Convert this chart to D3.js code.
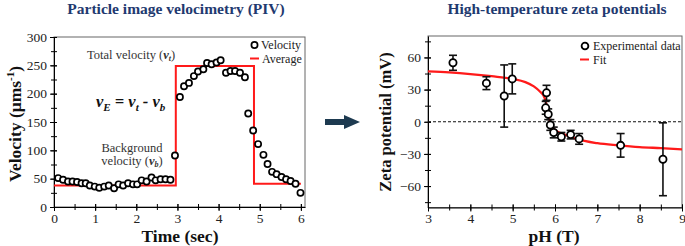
<!DOCTYPE html>
<html><head><meta charset="utf-8">
<script src="https://cdn.jsdelivr.net/npm/d3@7"></script>
<style>
body{margin:0;background:#fff;}
svg{display:block;font-family:"Liberation Serif","Times New Roman",serif;}
svg text{font-family:"Liberation Serif","Times New Roman",serif;}
</style></head>
<body><svg id="c" width="685" height="246"></svg>
<script>
// ---------- Data: left panel (PIV) ----------
const timeSec = [0.10,0.22,0.34,0.45,0.56,0.67,0.77,0.87,0.99,1.10,1.22,1.33,1.46,1.57,1.68,1.80,1.92,2.02,2.13,2.25,2.37,2.47,2.59,2.71,2.83,2.94,
  3.06,3.16,3.28,3.40,3.50,3.63,3.72,3.83,3.95,4.05,4.18,4.29,4.40,4.52,4.64,4.72,4.84,4.96,5.09,5.19,5.30,5.41,5.53,5.64,5.75,5.87,5.99];
const velocity = [51,48,45,45,44,42,42,38,36,34,36,38,33,40,38,42,40,40,47,45,52,47,49,49,48,91,
  194,213,219,231,239,243,254,252,255,259,237,240,240,237,229,165,135,111,92,76,62,58,53,49,46,41,25];
const avgTime = [0,2.96,2.96,4.86,4.86,6.0];
const avgVel  = [38,38,249,249,41,41];
const leftXTicks = [0,1,2,3,4,5,6];
const leftYTicks = [0,50,100,150,200,250,300];

// ---------- Data: right panel (zeta) ----------
const pH    = [3.59,4.38,4.80,4.99,5.80,5.78,5.84,5.89,5.97,6.15,6.37,6.57,7.55,8.55];
const zeta  = [55,36,24,40,27,13,7,-3,-10,-14,-12,-16,-22,-35];
const zErr  = [7,6,29,14,7,6,5,5,5,4,4,5,11,34];
const fitPH   = [3,3.5,4,4.5,5,5.3,5.5,5.65,5.72,5.78,5.82,5.86,5.9,5.96,6.05,6.2,6.5,7,7.5,8,8.5,9];
const fitZeta = [47,46,44.5,42.5,40,37,33,28,25,19,11,3,-2,-6,-9,-11.5,-16,-20,-22,-23.6,-24.6,-25.7];
const rightXTicks = [3,4,5,6,7,8,9];
const rightYTicks = [-60,-30,0,30,60];

const svg = d3.select("#c");
const navy = "#1f3a70";
const red = "#ff1a1a";
const serif = "'Liberation Serif','Times New Roman',serif";

function crossTicks(g, orient, len){
  g.selectAll(".tick line").attr(orient==="left"?"x1":"y1", orient==="left"?len:-len);
}
function styleTicks(g){
  g.attr("font-family",null).attr("font-size",null);
  g.selectAll("text").style("font-family",serif).style("font-size","13.5px").attr("fill","#222");
}

// ================= LEFT PANEL =================
const xL = d3.scaleLinear().domain([0,6.1]).range([54,305]);
const yL = d3.scaleLinear().domain([0,300]).range([207,37]);

svg.append("rect").attr("x",54).attr("y",37).attr("width",251).attr("height",170)
  .attr("fill","none").attr("stroke","#666").attr("stroke-width",1);

const gxm = svg.append("g").attr("transform","translate(0,207)")
  .call(d3.axisBottom(xL).tickValues(d3.range(0,6.01,0.5)).tickSize(3).tickFormat(""));
gxm.select(".domain").remove(); crossTicks(gxm,"bottom",3);
const gym = svg.append("g").attr("transform","translate(54,0)")
  .call(d3.axisLeft(yL).tickValues(d3.range(0,301,25)).tickSize(3).tickFormat(""));
gym.select(".domain").remove(); crossTicks(gym,"left",3);

const gx = svg.append("g").attr("transform","translate(0,207)")
  .call(d3.axisBottom(xL).tickValues(leftXTicks).tickFormat(d3.format("d")).tickSize(4).tickPadding(2).tickSizeOuter(0));
crossTicks(gx,"bottom",3); styleTicks(gx);
const gy = svg.append("g").attr("transform","translate(54,0)")
  .call(d3.axisLeft(yL).tickValues(leftYTicks).tickFormat(d3.format("d")).tickSize(4).tickPadding(3).tickSizeOuter(0));
crossTicks(gy,"left",3); styleTicks(gy);

svg.append("path").datum(d3.range(avgTime.length))
  .attr("d", d3.line().x(i=>xL(avgTime[i])).y(i=>yL(avgVel[i])))
  .attr("fill","none").attr("stroke",red).attr("stroke-width",2);

svg.append("g").selectAll("circle").data(d3.range(timeSec.length)).join("circle")
  .attr("cx",i=>xL(timeSec[i])).attr("cy",i=>yL(velocity[i])).attr("r",3.1)
  .attr("fill","#fff").attr("stroke","#000").attr("stroke-width",1.7);

svg.append("circle").attr("cx",254.5).attr("cy",45).attr("r",3.1).attr("fill","#fff").attr("stroke","#000").attr("stroke-width",1.7);
svg.append("text").attr("x",261).attr("y",49).attr("font-size",12).attr("fill","#222").text("Velocity");
svg.append("line").attr("x1",250).attr("x2",259).attr("y1",58.5).attr("y2",58.5).attr("stroke",red).attr("stroke-width",2);
svg.append("text").attr("x",262).attr("y",62.5).attr("font-size",12).attr("fill","#222").text("Average");

const t1 = svg.append("text").attr("x",87).attr("y",58.5).attr("font-size",12.5).attr("fill","#333");
t1.append("tspan").text("Total velocity (");
t1.append("tspan").attr("font-weight","bold").attr("font-style","italic").text("v");
t1.append("tspan").attr("font-weight","bold").attr("font-style","italic").attr("font-size",8).attr("dy",2).text("t");
t1.append("tspan").attr("dy",-2).text(")");

const eq = svg.append("text").attr("x",96).attr("y",107).attr("font-size",16.5).attr("font-weight","bold").attr("font-style","italic").attr("fill","#111");
eq.append("tspan").text("v");
eq.append("tspan").attr("font-size",11).attr("dy",4).text("E");
eq.append("tspan").attr("dy",-4).text(" = v");
eq.append("tspan").attr("font-size",11).attr("dy",4).text("t");
eq.append("tspan").attr("dy",-4).text(" - v");
eq.append("tspan").attr("font-size",11).attr("dy",4).text("b");

svg.append("text").attr("x",132).attr("y",151.5).attr("text-anchor","middle").attr("font-size",12.5).attr("fill","#333").text("Background");
const t2 = svg.append("text").attr("x",132).attr("y",164.5).attr("text-anchor","middle").attr("font-size",12.5).attr("fill","#333");
t2.append("tspan").text("velocity (");
t2.append("tspan").attr("font-weight","bold").attr("font-style","italic").text("v");
t2.append("tspan").attr("font-weight","bold").attr("font-style","italic").attr("font-size",8).attr("dy",2).text("b");
t2.append("tspan").attr("dy",-2).text(")");

svg.append("text").attr("x",176).attr("y",14).attr("text-anchor","middle").attr("font-size",15.5).attr("font-weight","bold").attr("fill",navy).text("Particle image velocimetry (PIV)");
svg.append("text").attr("x",180).attr("y",242).attr("text-anchor","middle").attr("font-size",17.5).attr("font-weight","bold").attr("fill","#111").text("Time (sec)");
const yl = svg.append("text").attr("transform","translate(21,124) rotate(-90)").attr("text-anchor","middle").attr("font-size",17.5).attr("font-weight","bold").attr("fill","#111");
yl.append("tspan").text("Velocity (μms");
yl.append("tspan").attr("font-size",11).attr("dy",-7).text("-1");
yl.append("tspan").attr("dy",7).text(")");

// ================= ARROW =================
svg.append("path")
  .attr("d","M325,119 L344,119 L344,115 L360,122 L344,129 L344,125 L325,125 Z")
  .attr("fill","#1d3a50");

// ================= RIGHT PANEL =================
const xR = d3.scaleLinear().domain([3,9]).range([428,682]);
const yR = d3.scaleLinear().domain([-80,80]).range([207.5,36]);

svg.append("rect").attr("x",428).attr("y",36).attr("width",254).attr("height",171.5)
  .attr("fill","none").attr("stroke","#666").attr("stroke-width",1);

const rxm = svg.append("g").attr("transform","translate(0,207.5)")
  .call(d3.axisBottom(xR).tickValues(d3.range(3,9.01,0.5)).tickSize(3).tickFormat(""));
rxm.select(".domain").remove(); crossTicks(rxm,"bottom",3);
const rym = svg.append("g").attr("transform","translate(428,0)")
  .call(d3.axisLeft(yR).tickValues(d3.range(-75,76,15)).tickSize(3).tickFormat(""));
rym.select(".domain").remove(); crossTicks(rym,"left",3);

const rx = svg.append("g").attr("transform","translate(0,207.5)")
  .call(d3.axisBottom(xR).tickValues(rightXTicks).tickFormat(d3.format("d")).tickSize(4).tickPadding(2).tickSizeOuter(0));
crossTicks(rx,"bottom",3); styleTicks(rx);
rx.selectAll(".tick text").filter(d=>d===9).attr("text-anchor","end").attr("dx","3.5");
const ry = svg.append("g").attr("transform","translate(428,0)")
  .call(d3.axisLeft(yR).tickValues(rightYTicks).tickSize(4).tickPadding(3).tickSizeOuter(0).tickFormat(d=>d<0?"−"+Math.abs(d):String(d)));
crossTicks(ry,"left",3); styleTicks(ry);

svg.append("line").attr("x1",428).attr("x2",682).attr("y1",yR(0)).attr("y2",yR(0))
  .attr("stroke","#111").attr("stroke-width",1).attr("stroke-dasharray","3,2");

svg.append("path").datum(d3.range(fitPH.length))
  .attr("d", d3.line().x(i=>xR(fitPH[i])).y(i=>yR(fitZeta[i])).curve(d3.curveMonotoneX))
  .attr("fill","none").attr("stroke",red).attr("stroke-width",2.3);

const eb = svg.append("g").attr("stroke","#111").attr("stroke-width",1.6);
d3.range(pH.length).forEach(i=>{
  const x = xR(pH[i]);
  eb.append("line").attr("x1",x).attr("x2",x).attr("y1",yR(zeta[i]+zErr[i])).attr("y2",yR(zeta[i]-zErr[i]));
  eb.append("line").attr("x1",x-4).attr("x2",x+4).attr("y1",yR(zeta[i]+zErr[i])).attr("y2",yR(zeta[i]+zErr[i]));
  eb.append("line").attr("x1",x-4).attr("x2",x+4).attr("y1",yR(zeta[i]-zErr[i])).attr("y2",yR(zeta[i]-zErr[i]));
});
svg.append("g").selectAll("circle").data(d3.range(pH.length)).join("circle")
  .attr("cx",i=>xR(pH[i])).attr("cy",i=>yR(zeta[i])).attr("r",3.6)
  .attr("fill","#fff").attr("stroke","#000").attr("stroke-width",1.8);

svg.append("circle").attr("cx",585).attr("cy",46).attr("r",3.4).attr("fill","#fff").attr("stroke","#000").attr("stroke-width",1.8);
svg.append("text").attr("x",593).attr("y",50).attr("font-size",12).attr("fill","#222").text("Experimental data");
svg.append("line").attr("x1",580).attr("x2",589).attr("y1",59.5).attr("y2",59.5).attr("stroke",red).attr("stroke-width",2);
svg.append("text").attr("x",593).attr("y",63.5).attr("font-size",12).attr("fill","#222").text("Fit");

svg.append("text").attr("x",557).attr("y",14).attr("text-anchor","middle").attr("font-size",15.5).attr("font-weight","bold").attr("fill",navy).text("High-temperature zeta potentials");
svg.append("text").attr("x",554).attr("y",242).attr("text-anchor","middle").attr("font-size",17.5).attr("font-weight","bold").attr("fill","#111").text("pH (T)");
svg.append("text").attr("transform","translate(391,122) rotate(-90)").attr("text-anchor","middle").attr("font-size",16.5).attr("font-weight","bold").attr("fill","#111").text("Zeta potential (mV)");
</script></body></html>
